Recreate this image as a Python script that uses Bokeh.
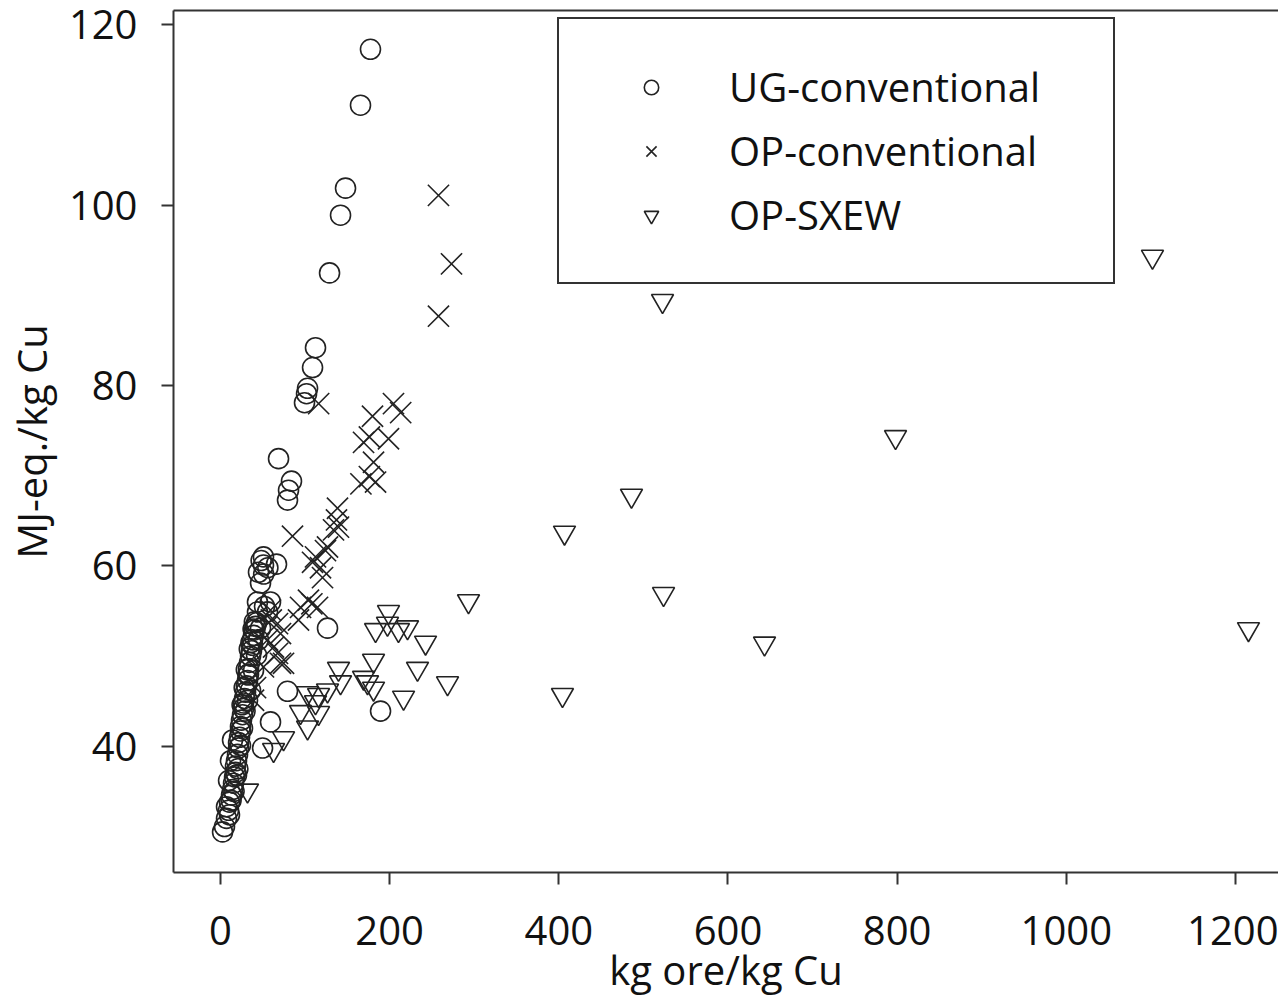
from bokeh.plotting import figure
from bokeh.models import Range1d, FixedTicker, LinearAxis, Legend, LegendItem
from bokeh.embed import file_html
from bokeh.resources import INLINE

# ---- data ----
ug_x = [177.3, 165.5, 147.8, 141.9, 128.9, 112.3, 108.8, 102.9, 101.7, 99.3,
        68.6, 83.9, 80.4, 79.2, 50.8, 50.8, 66.2, 44.9, 47.3, 48.0,
        56.0, 51.0, 43.7, 59.1, 55.6, 52.0, 126.5, 79.2, 59.1, 49.7, 189.2,
        2.4, 4.7, 7.1, 9.5, 10.6, 13.0, 14.2, 15.4, 16.6, 17.7, 17.7, 18.9,
        20.1, 21.3, 21.3, 22.5, 23.6, 23.6, 24.8, 26.0, 27.2, 27.2, 28.4,
        29.6, 30.7, 31.9, 33.1, 33.1, 34.3, 35.5, 36.6, 37.8, 37.8, 39.0,
        40.2, 41.4, 42.6,
        31.9, 35.5, 39.0, 42.6, 44.9, 47.3, 43.7, 14.2, 11.8, 9.5, 10.6,
        7.1, 18.9, 23.6, 26.0, 29.0, 32.5, 36.0, 40.0, 20.5, 16.0, 12.5,
        25.5, 28.0, 30.5, 34.0, 38.5]
ug_y = [117.3, 111.1, 101.9, 98.9, 92.5, 84.2, 82.0, 79.7, 79.1, 78.1,
        71.9, 69.4, 68.4, 67.3, 61.0, 60.1, 60.2, 59.3, 58.1, 60.6,
        59.8, 59.1, 56.0, 56.0, 54.9, 55.5, 53.1, 46.1, 42.7, 39.8, 43.9,
        30.5, 31.1, 32.0, 32.9, 33.8, 34.6, 35.2, 35.9, 36.6, 37.1, 37.8, 38.4,
        39.1, 39.8, 40.4, 41.0, 41.7, 42.2, 42.9, 43.5, 44.2, 44.8, 45.3,
        46.0, 46.7, 47.3, 48.0, 48.6, 49.3, 50.0, 50.6, 51.2, 51.8, 52.3,
        52.9, 53.3, 53.7,
        45.1, 46.2, 48.4, 50.1, 51.8, 53.1, 54.9, 40.7, 38.4, 36.2, 32.4,
        33.3, 36.8, 40.1, 42.0, 43.9, 47.9, 51.5, 53.8, 37.5, 35.0, 34.0,
        44.6, 46.5, 48.5, 50.8, 53.0]

op_x = [257.7, 273.1, 257.7, 116.0, 204.5, 213.0, 179.7, 169.1, 176.0, 198.6,
        180.9, 176.0, 183.3, 166.0, 138.3, 137.1, 139.5, 133.6, 85.1, 126.5,
        124.1, 112.3, 108.8, 118.2, 120.6, 104.0, 108.0, 114.7, 94.6, 92.2,
        67.4, 59.1, 70.9, 62.7, 55.6, 67.4, 70.9, 74.5, 50.8, 41.4, 39.0, 60.0]
op_y = [101.1, 93.5, 87.7, 78.0, 78.0, 77.0, 76.6, 73.7, 74.3, 74.1,
        71.5, 69.9, 69.3, 69.1, 66.4, 65.1, 64.3, 64.0, 63.3, 62.1,
        61.7, 61.0, 60.4, 59.8, 58.7, 56.2, 55.8, 55.4, 55.4, 54.0,
        53.6, 55.1, 52.5, 51.0, 51.8, 50.3, 49.2, 49.2, 48.8, 46.5, 45.1, 54.0]

sx_x = [1101.9, 522.6, 798.1, 485.9, 406.7, 293.2, 523.8, 643.2, 1215.4, 404.3,
        198.6, 183.3, 197.4, 210.4, 221.1, 242.4, 268.4, 139.5, 141.9, 180.9,
        169.1, 173.8, 180.9, 216.4, 232.9, 102.9, 115.9, 126.5, 112.3, 94.6,
        102.9, 115.9, 74.5, 62.7, 31.9]
sx_y = [94.3, 89.4, 74.3, 67.8, 63.7, 56.1, 56.9, 51.4, 53.0, 45.7,
        54.9, 52.9, 53.6, 52.9, 53.2, 51.5, 47.0, 48.6, 47.1, 49.5,
        47.6, 47.1, 46.4, 45.4, 48.6, 45.9, 45.7, 46.2, 44.9, 43.8,
        42.1, 43.7, 40.9, 39.6, 35.1]

x_ticks = [0, 200, 400, 600, 800, 1000, 1200]
y_ticks = [40, 60, 80, 100, 120]
series_labels = ["UG-conventional", "OP-conventional", "OP-SXEW"]
x_title = "kg ore/kg Cu"
y_title = "MJ-eq./kg Cu"

FONT = "Open Sans"
INK = "#222222"
TXT = "#111111"

p = figure(width=1278, height=1000, output_backend="svg", toolbar_location=None,
           x_range=Range1d(-55.6, 1250.9), y_range=Range1d(26.0, 121.6),
           min_border_left=173, min_border_top=10, min_border_right=0,
           min_border_bottom=128)
p.outline_line_color = None
p.xgrid.visible = False
p.ygrid.visible = False
p.background_fill_color = "white"

for ax in (p.xaxis[0], p.yaxis[0]):
    ax.axis_line_color = "#333333"
    ax.axis_line_width = 2
    ax.major_tick_line_color = "#333333"
    ax.major_tick_line_width = 2
    ax.major_tick_out = 12
    ax.major_tick_in = 0
    ax.minor_tick_line_color = None
    ax.major_label_text_font = FONT
    ax.major_label_text_font_size = "40px"
    ax.major_label_text_color = TXT
    ax.axis_label_text_font = FONT
    ax.axis_label_text_font_size = "40px"
    ax.axis_label_text_font_style = "normal"
    ax.axis_label_text_color = TXT

p.xaxis[0].ticker = FixedTicker(ticks=x_ticks)
p.yaxis[0].ticker = FixedTicker(ticks=y_ticks)
p.xaxis[0].axis_label = x_title
p.yaxis[0].axis_label = y_title
p.xaxis[0].major_label_standoff = 31
p.xaxis[0].axis_label_standoff = -6
p.yaxis[0].major_label_standoff = 24
p.yaxis[0].axis_label_standoff = 7

top = LinearAxis(ticker=FixedTicker(ticks=[]), axis_line_color="#333333",
                 axis_line_width=2, major_tick_line_color=None,
                 minor_tick_line_color=None, major_label_text_font_size="0px",
                 major_tick_out=0, major_tick_in=0, major_label_standoff=0,
                 axis_label_standoff=0)
p.add_layout(top, "above")

r1 = p.scatter(ug_x, ug_y, marker="circle", size=20, fill_color=None,
               line_color=INK, line_width=1.6)
r2 = p.scatter(op_x, op_y, marker="x", size=30, line_color=INK, line_width=1.6)
r3 = p.scatter(sx_x, sx_y, marker="inverted_triangle", size=22, fill_color=None,
               line_color=INK, line_width=1.6)

legend = Legend(items=[LegendItem(label=series_labels[0], renderers=[r1]),
                       LegendItem(label=series_labels[1], renderers=[r2]),
                       LegendItem(label=series_labels[2], renderers=[r3])],
                location=(384, 588), padding=40, spacing=9, margin=0,
                glyph_width=104, glyph_height=36, label_standoff=26,
                label_width=344, label_text_font=FONT,
                label_text_font_size="40px", label_text_color=TXT,
                border_line_color="#333333", border_line_width=2,
                border_line_alpha=1.0,
                background_fill_color="white", background_fill_alpha=1.0)
p.add_layout(legend, "center")

open("out.html", "w").write(file_html(p, INLINE))
